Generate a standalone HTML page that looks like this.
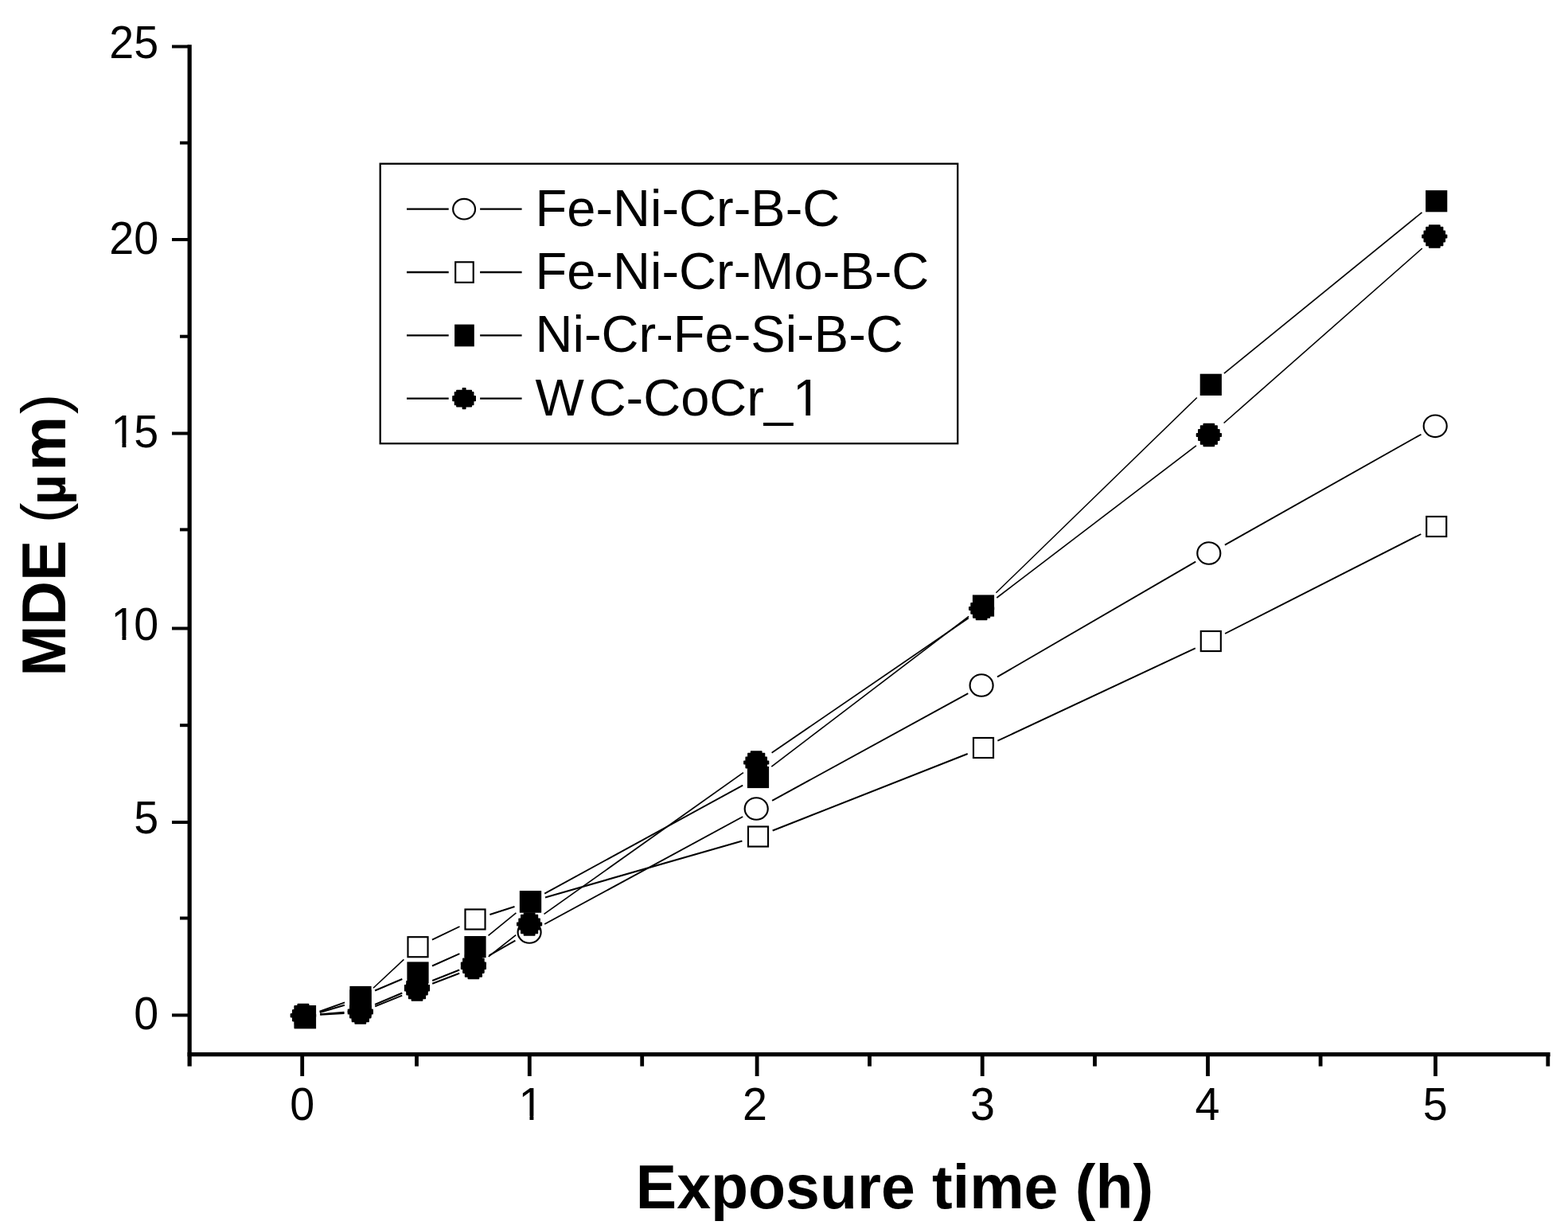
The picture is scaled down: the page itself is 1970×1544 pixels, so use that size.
<!DOCTYPE html>
<html lang="en">
<head>
<meta charset="utf-8">
<title>MDE vs exposure time</title>
<style>
html,body{margin:0;padding:0;background:#fff;}
body{width:1970px;height:1544px;overflow:hidden;}
svg{display:block;}
text{font-family:"Liberation Sans",Arial,Helvetica,sans-serif;fill:#000;font-kerning:none;}
.tk text{font-size:56.5px;}
.lg text{font-size:65px;}
.ti{font-size:77px;font-weight:bold;}
.pr{font-weight:normal;}
</style>
</head>
<body>
<svg width="1970" height="1544" viewBox="0 0 1970 1544">
<rect width="1970" height="1544" fill="#fff"/>
<g id="axes" fill="#000">
<rect x="235.55" y="56.2" width="5.2" height="1283.4"/>
<rect x="235.55" y="1322.05" width="1712.0" height="5.2"/>
<rect x="377.3" y="1324.7" width="4.8" height="27.3"/>
<rect x="662.9" y="1324.7" width="4.8" height="27.3"/>
<rect x="948.7" y="1324.7" width="4.8" height="27.3"/>
<rect x="1231.8" y="1324.7" width="4.8" height="27.3"/>
<rect x="1515.1" y="1324.7" width="4.8" height="27.3"/>
<rect x="1801.1" y="1324.7" width="4.8" height="27.3"/>
<rect x="521.1" y="1324.7" width="4.8" height="14.9"/>
<rect x="804.3" y="1324.7" width="4.8" height="14.9"/>
<rect x="1090.1" y="1324.7" width="4.8" height="14.9"/>
<rect x="1373.1" y="1324.7" width="4.8" height="14.9"/>
<rect x="1656.7" y="1324.7" width="4.8" height="14.9"/>
<rect x="1942.4" y="1324.7" width="4.8" height="14.9"/>
<rect x="216.0" y="56.5" width="22.2" height="4.0"/>
<rect x="216.0" y="299.0" width="22.2" height="4.0"/>
<rect x="216.0" y="542.5" width="22.2" height="4.0"/>
<rect x="216.0" y="787.5" width="22.2" height="4.0"/>
<rect x="216.0" y="1031.0" width="22.2" height="4.0"/>
<rect x="216.0" y="1273.4" width="22.2" height="4.0"/>
<rect x="226.0" y="177.5" width="12.2" height="4.0"/>
<rect x="226.0" y="420.7" width="12.2" height="4.0"/>
<rect x="226.0" y="663.4" width="12.2" height="4.0"/>
<rect x="226.0" y="909.2" width="12.2" height="4.0"/>
<rect x="226.0" y="1151.5" width="12.2" height="4.0"/>
</g>
<g class="tk">
<text transform="translate(199.2 73.0) scale(0.985 1)" text-anchor="end">25</text>
<text transform="translate(199.2 318.9) scale(0.985 1)" text-anchor="end">20</text>
<text transform="translate(199.2 561.6) scale(0.985 1)" text-anchor="end"><tspan style="letter-spacing:-2.3px">1</tspan>5</text>
<text transform="translate(199.2 804.4) scale(0.985 1)" text-anchor="end"><tspan style="letter-spacing:-2.3px">1</tspan>0</text>
<text transform="translate(199.2 1047.3) scale(0.985 1)" text-anchor="end">5</text>
<text transform="translate(199.2 1293.0) scale(0.985 1)" text-anchor="end">0</text>
<text transform="translate(379.7 1407.0) scale(0.985 1)" text-anchor="middle">0</text>
<text transform="translate(666.9 1407.0) scale(0.985 1)" text-anchor="middle">1</text>
<text transform="translate(948.5 1407.0) scale(0.985 1)" text-anchor="middle">2</text>
<text transform="translate(1234.5 1407.0) scale(0.985 1)" text-anchor="middle">3</text>
<text transform="translate(1516.9 1407.0) scale(0.985 1)" text-anchor="middle">4</text>
<text transform="translate(1803.3 1407.0) scale(0.985 1)" text-anchor="middle">5</text>
</g>
<text class="ti" x="1124" y="1517.7" text-anchor="middle">Exposure time (h)</text>
<text class="ti" transform="translate(82.3 672.2) rotate(-90)" text-anchor="middle">MDE <tspan class="pr">(</tspan><tspan dx="-2.5" style="font-size:66px">µ</tspan><tspan dx="4.5">m</tspan><tspan class="pr" dx="2.8">)</tspan></text>
<g id="lines" stroke="#000" stroke-linecap="butt" fill="none">
<line x1="402.2" y1="1274.3" x2="432.5" y2="1271.7" stroke-width="2.14"/>
<line x1="471.1" y1="1262.0" x2="505.3" y2="1247.5" stroke-width="1.98"/>
<line x1="543.2" y1="1232.0" x2="577.2" y2="1218.5" stroke-width="2.00"/>
<line x1="614.5" y1="1200.4" x2="647.4" y2="1181.6" stroke-width="1.86"/>
<line x1="684.2" y1="1161.0" x2="933.2" y2="1026.0" stroke-width="1.89"/>
<line x1="970.1" y1="1005.9" x2="1216.3" y2="871.1" stroke-width="1.89"/>
<line x1="1253.0" y1="850.4" x2="1502.2" y2="705.6" stroke-width="1.86"/>
<line x1="1538.9" y1="684.6" x2="1785.5" y2="545.7" stroke-width="1.87"/>
<line x1="401.8" y1="1272.0" x2="432.9" y2="1262.7" stroke-width="2.06"/>
<line x1="469.0" y1="1241.3" x2="507.4" y2="1205.4" stroke-width="1.57"/>
<line x1="542.9" y1="1180.7" x2="577.5" y2="1164.0" stroke-width="1.94"/>
<line x1="615.4" y1="1148.9" x2="646.5" y2="1139.1" stroke-width="2.05"/>
<line x1="685.0" y1="1127.5" x2="932.4" y2="1056.5" stroke-width="2.07"/>
<line x1="970.7" y1="1043.5" x2="1215.7" y2="947.0" stroke-width="2.00"/>
<line x1="1253.4" y1="930.7" x2="1501.8" y2="814.3" stroke-width="1.95"/>
<line x1="1539.1" y1="796.0" x2="1785.3" y2="671.0" stroke-width="1.92"/>
<line x1="401.6" y1="1270.8" x2="433.1" y2="1259.4" stroke-width="2.02"/>
<line x1="471.1" y1="1244.5" x2="505.3" y2="1230.0" stroke-width="1.98"/>
<line x1="543.0" y1="1213.5" x2="577.4" y2="1198.1" stroke-width="1.96"/>
<line x1="613.5" y1="1175.4" x2="648.4" y2="1146.9" stroke-width="1.66"/>
<line x1="684.2" y1="1122.6" x2="933.2" y2="986.6" stroke-width="1.89"/>
<line x1="969.3" y1="963.1" x2="1217.1" y2="774.4" stroke-width="1.71"/>
<line x1="1251.4" y1="744.8" x2="1503.8" y2="499.5" stroke-width="1.54"/>
<line x1="1537.9" y1="469.2" x2="1786.5" y2="266.8" stroke-width="1.67"/>
<line x1="402.2" y1="1274.6" x2="432.5" y2="1273.0" stroke-width="2.15"/>
<line x1="471.2" y1="1264.4" x2="505.2" y2="1250.6" stroke-width="1.99"/>
<line x1="543.2" y1="1235.7" x2="577.2" y2="1222.8" stroke-width="2.01"/>
<line x1="613.7" y1="1201.8" x2="648.2" y2="1174.7" stroke-width="1.69"/>
<line x1="683.5" y1="1148.4" x2="933.9" y2="970.6" stroke-width="1.75"/>
<line x1="969.6" y1="945.8" x2="1216.8" y2="776.6" stroke-width="1.77"/>
<line x1="1252.3" y1="751.0" x2="1502.9" y2="559.9" stroke-width="1.71"/>
<line x1="1537.6" y1="531.5" x2="1786.8" y2="312.0" stroke-width="1.61"/>
</g>
<g id="markers">
<polygon points="387.5,1262.0 387.5,1264.5 391.2,1264.5 391.2,1269.4 394.0,1269.4 394.0,1274.3 396.3,1274.3 396.3,1277.7 394.0,1277.7 394.0,1282.6 391.2,1282.6 391.2,1287.5 387.5,1287.5 387.5,1290.0 374.4,1290.0 374.4,1287.5 370.7,1287.5 370.7,1282.6 367.9,1282.6 367.9,1277.7 365.6,1277.7 365.6,1274.3 367.9,1274.3 367.9,1269.4 370.7,1269.4 370.7,1264.5 374.4,1264.5 374.4,1262.0" fill="#000" stroke="#000" stroke-width="1.6" stroke-linejoin="round"/>
<polygon points="459.4,1256.0 459.4,1258.5 463.1,1258.5 463.1,1263.4 465.8,1263.4 465.8,1268.3 468.1,1268.3 468.1,1271.7 465.8,1271.7 465.8,1276.6 463.1,1276.6 463.1,1281.5 459.4,1281.5 459.4,1284.0 446.2,1284.0 446.2,1281.5 442.5,1281.5 442.5,1276.6 439.8,1276.6 439.8,1271.7 437.5,1271.7 437.5,1268.3 439.8,1268.3 439.8,1263.4 442.5,1263.4 442.5,1258.5 446.2,1258.5 446.2,1256.0" fill="#000" stroke="#000" stroke-width="1.6" stroke-linejoin="round"/>
<polygon points="530.6,1225.5 530.6,1228.0 534.3,1228.0 534.3,1232.9 537.0,1232.9 537.0,1237.8 539.3,1237.8 539.3,1241.2 537.0,1241.2 537.0,1246.1 534.3,1246.1 534.3,1251.0 530.6,1251.0 530.6,1253.5 517.4,1253.5 517.4,1251.0 513.7,1251.0 513.7,1246.1 511.0,1246.1 511.0,1241.2 508.7,1241.2 508.7,1237.8 511.0,1237.8 511.0,1232.9 513.7,1232.9 513.7,1228.0 517.4,1228.0 517.4,1225.5" fill="#000" stroke="#000" stroke-width="1.6" stroke-linejoin="round"/>
<polygon points="601.5,1197.0 601.5,1199.5 605.2,1199.5 605.2,1204.4 607.9,1204.4 607.9,1209.3 610.2,1209.3 610.2,1212.7 607.9,1212.7 607.9,1217.6 605.2,1217.6 605.2,1222.5 601.5,1222.5 601.5,1225.0 588.3,1225.0 588.3,1222.5 584.6,1222.5 584.6,1217.6 581.9,1217.6 581.9,1212.7 579.6,1212.7 579.6,1209.3 581.9,1209.3 581.9,1204.4 584.6,1204.4 584.6,1199.5 588.3,1199.5 588.3,1197.0" fill="#000" stroke="#000" stroke-width="1.6" stroke-linejoin="round"/>
<ellipse cx="665.1" cy="1171.0" rx="14.53" ry="13.78" fill="#fff" stroke="#000" stroke-width="2.15"/>
<ellipse cx="950.2" cy="1016.0" rx="14.53" ry="13.78" fill="#fff" stroke="#000" stroke-width="2.15"/>
<ellipse cx="1233.1" cy="861.0" rx="14.53" ry="13.78" fill="#fff" stroke="#000" stroke-width="2.15"/>
<ellipse cx="1518.8" cy="695.0" rx="14.53" ry="13.78" fill="#fff" stroke="#000" stroke-width="2.15"/>
<ellipse cx="1803.2" cy="535.3" rx="14.53" ry="13.78" fill="#fff" stroke="#000" stroke-width="2.15"/>
<rect x="369.7" y="1264.1" width="27.2" height="27.2" fill="#000"/>
<rect x="439.4" y="1243.4" width="27.2" height="27.2" fill="#000"/>
<rect x="512.48" y="1177.18" width="25.05" height="25.05" fill="#fff" stroke="#000" stroke-width="2.15"/>
<rect x="584.48" y="1142.48" width="25.05" height="25.05" fill="#fff" stroke="#000" stroke-width="2.15"/>
<rect x="652.9" y="1119.4" width="27.2" height="27.2" fill="#000"/>
<rect x="939.98" y="1038.48" width="25.05" height="25.05" fill="#fff" stroke="#000" stroke-width="2.15"/>
<rect x="1222.98" y="926.98" width="25.05" height="25.05" fill="#fff" stroke="#000" stroke-width="2.15"/>
<rect x="1508.78" y="792.98" width="25.05" height="25.05" fill="#fff" stroke="#000" stroke-width="2.15"/>
<rect x="1792.18" y="648.98" width="25.05" height="25.05" fill="#fff" stroke="#000" stroke-width="2.15"/>
<rect x="369.6" y="1263" width="27.5" height="29.4" fill="#000"/>
<rect x="439.4" y="1238.9" width="27.2" height="27.2" fill="#000"/>
<rect x="511.4" y="1208.4" width="27.2" height="27.2" fill="#000"/>
<rect x="583.4" y="1176.0" width="27.2" height="27.2" fill="#000"/>
<rect x="652.9" y="1119.1" width="27.2" height="27.2" fill="#000"/>
<rect x="938.9" y="962.9" width="27.2" height="27.2" fill="#000"/>
<rect x="1221.9" y="747.4" width="27.2" height="27.2" fill="#000"/>
<rect x="1507.7" y="469.7" width="27.2" height="27.2" fill="#000"/>
<rect x="1791.1" y="239.1" width="27.2" height="27.2" fill="#000"/>
<polygon points="387.5,1261.6 387.5,1264.1 391.2,1264.1 391.2,1269.0 394.0,1269.0 394.0,1273.9 396.3,1273.9 396.3,1277.3 394.0,1277.3 394.0,1282.2 391.2,1282.2 391.2,1287.1 387.5,1287.1 387.5,1289.6 374.4,1289.6 374.4,1287.1 370.7,1287.1 370.7,1282.2 367.9,1282.2 367.9,1277.3 365.6,1277.3 365.6,1273.9 367.9,1273.9 367.9,1269.0 370.7,1269.0 370.7,1264.1 374.4,1264.1 374.4,1261.6" fill="#000" stroke="#000" stroke-width="1.6" stroke-linejoin="round"/>
<polygon points="459.4,1258.0 459.4,1260.5 463.1,1260.5 463.1,1265.4 465.8,1265.4 465.8,1270.3 468.1,1270.3 468.1,1273.7 465.8,1273.7 465.8,1278.6 463.1,1278.6 463.1,1283.5 459.4,1283.5 459.4,1286.0 446.2,1286.0 446.2,1283.5 442.5,1283.5 442.5,1278.6 439.8,1278.6 439.8,1273.7 437.5,1273.7 437.5,1270.3 439.8,1270.3 439.8,1265.4 442.5,1265.4 442.5,1260.5 446.2,1260.5 446.2,1258.0" fill="#000" stroke="#000" stroke-width="1.6" stroke-linejoin="round"/>
<polygon points="530.6,1229.0 530.6,1231.5 534.3,1231.5 534.3,1236.4 537.0,1236.4 537.0,1241.3 539.3,1241.3 539.3,1244.7 537.0,1244.7 537.0,1249.6 534.3,1249.6 534.3,1254.5 530.6,1254.5 530.6,1257.0 517.4,1257.0 517.4,1254.5 513.7,1254.5 513.7,1249.6 511.0,1249.6 511.0,1244.7 508.7,1244.7 508.7,1241.3 511.0,1241.3 511.0,1236.4 513.7,1236.4 513.7,1231.5 517.4,1231.5 517.4,1229.0" fill="#000" stroke="#000" stroke-width="1.6" stroke-linejoin="round"/>
<polygon points="601.5,1201.5 601.5,1204.0 605.2,1204.0 605.2,1208.9 607.9,1208.9 607.9,1213.8 610.2,1213.8 610.2,1217.2 607.9,1217.2 607.9,1222.1 605.2,1222.1 605.2,1227.0 601.5,1227.0 601.5,1229.5 588.3,1229.5 588.3,1227.0 584.6,1227.0 584.6,1222.1 581.9,1222.1 581.9,1217.2 579.6,1217.2 579.6,1213.8 581.9,1213.8 581.9,1208.9 584.6,1208.9 584.6,1204.0 588.3,1204.0 588.3,1201.5" fill="#000" stroke="#000" stroke-width="1.6" stroke-linejoin="round"/>
<polygon points="671.7,1147.0 671.7,1149.5 675.4,1149.5 675.4,1154.4 678.1,1154.4 678.1,1159.3 680.4,1159.3 680.4,1162.7 678.1,1162.7 678.1,1167.6 675.4,1167.6 675.4,1172.5 671.7,1172.5 671.7,1175.0 658.5,1175.0 658.5,1172.5 654.8,1172.5 654.8,1167.6 652.1,1167.6 652.1,1162.7 649.8,1162.7 649.8,1159.3 652.1,1159.3 652.1,1154.4 654.8,1154.4 654.8,1149.5 658.5,1149.5 658.5,1147.0" fill="#000" stroke="#000" stroke-width="1.6" stroke-linejoin="round"/>
<polygon points="956.8,944.0 956.8,946.5 960.5,946.5 960.5,951.4 963.2,951.4 963.2,956.3 965.5,956.3 965.5,959.7 963.2,959.7 963.2,964.6 960.5,964.6 960.5,969.5 956.8,969.5 956.8,972.0 943.6,972.0 943.6,969.5 939.9,969.5 939.9,964.6 937.2,964.6 937.2,959.7 934.9,959.7 934.9,956.3 937.2,956.3 937.2,951.4 939.9,951.4 939.9,946.5 943.6,946.5 943.6,944.0" fill="#000" stroke="#000" stroke-width="1.6" stroke-linejoin="round"/>
<polygon points="1239.7,750.4 1239.7,752.9 1243.4,752.9 1243.4,757.8 1246.1,757.8 1246.1,762.7 1248.4,762.7 1248.4,766.1 1246.1,766.1 1246.1,771.0 1243.4,771.0 1243.4,775.9 1239.7,775.9 1239.7,778.4 1226.5,778.4 1226.5,775.9 1222.8,775.9 1222.8,771.0 1220.1,771.0 1220.1,766.1 1217.8,766.1 1217.8,762.7 1220.1,762.7 1220.1,757.8 1222.8,757.8 1222.8,752.9 1226.5,752.9 1226.5,750.4" fill="#000" stroke="#000" stroke-width="1.6" stroke-linejoin="round"/>
<polygon points="1525.4,532.5 1525.4,535.0 1529.1,535.0 1529.1,539.9 1531.9,539.9 1531.9,544.8 1534.2,544.8 1534.2,548.2 1531.9,548.2 1531.9,553.1 1529.1,553.1 1529.1,558.0 1525.4,558.0 1525.4,560.5 1512.3,560.5 1512.3,558.0 1508.6,558.0 1508.6,553.1 1505.8,553.1 1505.8,548.2 1503.5,548.2 1503.5,544.8 1505.8,544.8 1505.8,539.9 1508.6,539.9 1508.6,535.0 1512.3,535.0 1512.3,532.5" fill="#000" stroke="#000" stroke-width="1.6" stroke-linejoin="round"/>
<polygon points="1808.9,283.0 1808.9,285.5 1812.6,285.5 1812.6,290.4 1815.3,290.4 1815.3,295.3 1817.6,295.3 1817.6,298.7 1815.3,298.7 1815.3,303.6 1812.6,303.6 1812.6,308.5 1808.9,308.5 1808.9,311.0 1795.7,311.0 1795.7,308.5 1792.0,308.5 1792.0,303.6 1789.3,303.6 1789.3,298.7 1787.0,298.7 1787.0,295.3 1789.3,295.3 1789.3,290.4 1792.0,290.4 1792.0,285.5 1795.7,285.5 1795.7,283.0" fill="#000" stroke="#000" stroke-width="1.6" stroke-linejoin="round"/>
</g>
<g id="legend">
<rect x="477.7" y="205.7" width="725.5" height="351.5" fill="#fff" stroke="#000" stroke-width="2.3"/>
<g stroke="#000" stroke-width="2.3">
<line x1="511" y1="262.7" x2="563.7" y2="262.7"/>
<line x1="603.1" y1="262.7" x2="655.6" y2="262.7"/>
<line x1="511" y1="342.0" x2="563.7" y2="342.0"/>
<line x1="603.1" y1="342.0" x2="655.6" y2="342.0"/>
<line x1="511" y1="421.4" x2="563.7" y2="421.4"/>
<line x1="603.1" y1="421.4" x2="655.6" y2="421.4"/>
<line x1="511" y1="500.7" x2="563.7" y2="500.7"/>
<line x1="603.1" y1="500.7" x2="655.6" y2="500.7"/>
</g>
<ellipse cx="583.1" cy="262.7" rx="13.93" ry="12.83" fill="#fff" stroke="#000" stroke-width="2.15"/>
<rect x="572.18" y="329.27" width="22.55" height="25.55" fill="#fff" stroke="#000" stroke-width="2.15"/>
<rect x="571.1" y="407.6" width="24.7" height="27.7" fill="#000"/>
<polygon points="584.8,487.8 584.8,490.6 592.3,490.6 592.3,492.9 594.7,492.9 594.7,497.9 597.2,497.9 597.2,503.4 594.7,503.4 594.7,508.4 592.3,508.4 592.3,510.7 584.8,510.7 584.8,513.5 581.4,513.5 581.4,510.7 573.9,510.7 573.9,508.4 571.5,508.4 571.5,503.4 569.0,503.4 569.0,497.9 571.5,497.9 571.5,492.9 573.9,492.9 573.9,490.6 581.4,490.6 581.4,487.8" fill="#000" stroke="#000" stroke-width="1.6" stroke-linejoin="round"/>
<g class="lg">
<text x="672.6" y="283.6">Fe-Ni-Cr-B-C</text>
<text x="672.6" y="363.0">Fe-Ni-Cr-Mo-B-C</text>
<text x="672.6" y="442.4">Ni-Cr-Fe-Si-B-C</text>
<text x="672.6" y="522.0">W<tspan dx="5.7">C</tspan>-CoCr_1</text>
</g>
</g>
<g id="trim" fill="#fff">
<rect x="653.50" y="1402.0" width="11.99" height="6.5"/>
<rect x="670.40" y="1402.0" width="11.10" height="6.5"/>
<rect x="141.50" y="799.0" width="11.99" height="6.5"/>
<rect x="158.40" y="799.0" width="11.10" height="6.5"/>
<rect x="141.50" y="557.0" width="11.99" height="6.5"/>
<rect x="158.40" y="557.0" width="11.10" height="6.5"/>
<rect x="999.50" y="517.0" width="12.86" height="6.5"/>
<rect x="1018.09" y="517.0" width="12.41" height="6.5"/>
</g>
</svg>
</body>
</html>
